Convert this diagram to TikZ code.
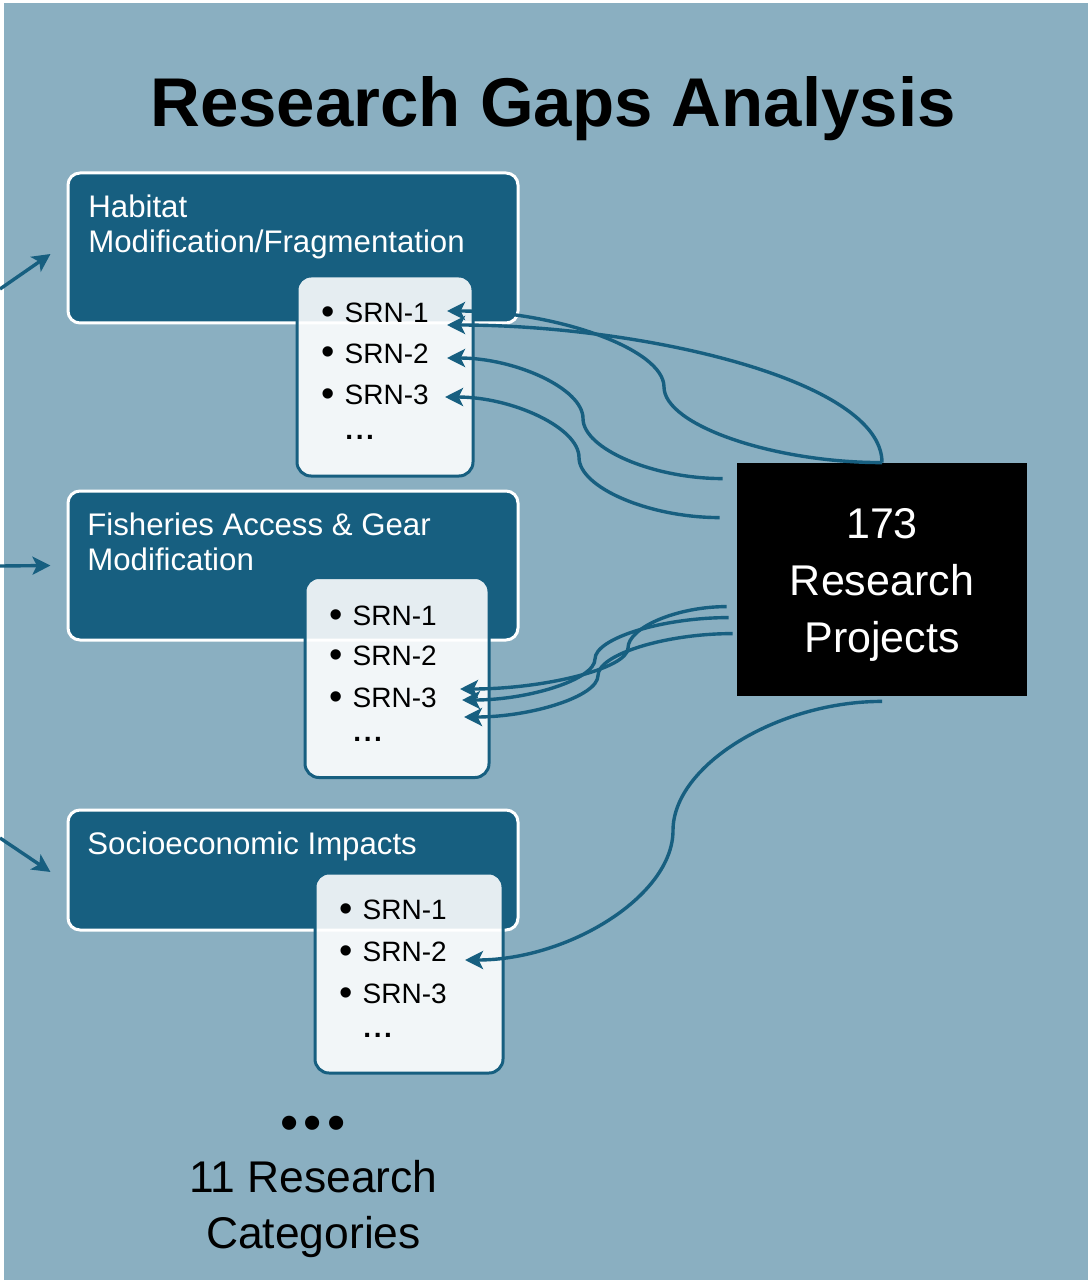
\documentclass[tikz,border=0pt]{standalone}
\usepackage{fontspec}
\setmainfont{Liberation Sans}
\usetikzlibrary{arrows.meta}
\definecolor{bgblue}{RGB}{138,175,193}
\definecolor{deepblue}{RGB}{23,95,128}
\newcommand{\srnbullet}{\raisebox{-1pt}{\fontsize{19}{17}\selectfont\textbullet}\hspace{5pt}}
\tikzset{
>={Stealth[length=9pt,width=9pt,inset=2.2pt]},
  catbox/.style={
    rectangle,
    rounded corners=6pt,
    fill=deepblue,
    draw=white, line width=1.5pt,
    minimum width=225pt},
  cattext/.style={
    anchor=base west,
    inner sep=0pt,
    align=left,
    text=white,
    font=\fontsize{15.6}{17.5}\selectfont},
  srnbox/.style={
    rectangle,
    rounded corners=7pt,
    fill=white, fill opacity=0.89,
    draw=deepblue, line width=1.5pt,
    minimum height=100pt},
  item/.style={anchor=base west, inner sep=0pt,
    font=\fontsize{14}{17}\selectfont},
  projbox/.style={
    rectangle,
    fill=black,
    minimum width=145pt,
    minimum height=116.5pt},
  projtext/.style={
    anchor=base,
    inner sep=0pt,
    text=white,
    align=center,
    font=\fontsize{21.5}{28.5}\selectfont},
  link/.style={draw=deepblue, line width=1.7pt, ->},
}
\begin{document}
\begin{tikzpicture}[x=0.5pt,y=-0.5pt]
  \useasboundingbox (0,0) rectangle (1088,1283);
  \fill[bgblue] (4,3) rectangle (1088,1280);
  \node[anchor=base, font=\fontsize{34.5}{40}\selectfont\bfseries] (title)
    at (553,127) {Research Gaps Analysis};

  % categories
  \node[catbox, minimum height=75pt] (hab) at (293,248) {};
  \node[catbox, minimum height=74.5pt] (fis) at (293,565.5) {};
  \node[catbox, minimum height=60pt] (soc) at (293,870) {};
  \node[cattext] (hab-t) at (88,253) {Habitat\\Modification/Fragmentation};
  \node[cattext] (fis-t) at (87,570.5) {Fisheries Access \& Gear\\Modification};
  \node[cattext] (soc-t) at (87,854.5) {Socioeconomic Impacts};

  % SRN lists
  \node[srnbox, minimum width=88pt] (hab-l) at (385,376) {};
  \node[item] (hab1) at (321,322) {\srnbullet SRN-1};
  \node[item] (hab2) at (321,363) {\srnbullet SRN-2};
  \node[item] (hab3) at (321,404.5) {\srnbullet SRN-3};
  \node[item] (hab-more) at (345,439) {\textbf{.\kern1.3pt.\kern1.3pt.}};

  \node[srnbox, minimum width=92pt] (fis-l) at (397,677.5) {};
  \node[item] (fis1) at (329,625) {\srnbullet SRN-1};
  \node[item] (fis2) at (329,665.5) {\srnbullet SRN-2};
  \node[item] (fis3) at (329,707) {\srnbullet SRN-3};
  \node[item] (fis-more) at (353,741) {\textbf{.\kern1.3pt.\kern1.3pt.}};

  \node[srnbox, minimum width=94pt] (soc-l) at (409,973) {};
  \node[item] (soc1) at (339,919.5) {\srnbullet SRN-1};
  \node[item] (soc2) at (339,961.5) {\srnbullet SRN-2};
  \node[item] (soc3) at (339,1003) {\srnbullet SRN-3};
  \node[item] (soc-more) at (363,1037) {\textbf{.\kern1.3pt.\kern1.3pt.}};

  \node[font=\fontsize{26}{30}\selectfont] (more) at (313,1128)
    {\textbullet\kern2.5pt\textbullet\kern2.5pt\textbullet};
  \node[anchor=base, align=center, font=\fontsize{22.2}{28}\selectfont] (cats)
    at (313.5,1248) {11 Research\\Categories};

  \node[projbox] (proj) at (882,579.5) {};
  \node[projtext] (proj-t) at (882,652) {173\\Research\\Projects};

  % free ends
  \coordinate (ina) at (0,289);
  \coordinate (inb) at (0,566);
  \coordinate (inc) at (0,838);
  \coordinate (pa) at ([shift={(-14,16)}]proj.north west);
  \coordinate (pb) at ([shift={(-17,55)}]proj.north west);
  \coordinate (pc) at ([shift={(-10,144)}]proj.north west);
  \coordinate (pd) at ([shift={(-8,155)}]proj.north west);
  \coordinate (pe) at ([shift={(-4,171)}]proj.north west);
  \coordinate (pf) at ([shift={(0,5)}]proj.south);

  \draw[link] (ina) -- ([shift={(-16,6)}]hab.west);
  \draw[link] (inb) -- ([shift={(-16,0)}]fis.west);
  \draw[link] (inc) -- ([shift={(-16,2)}]soc.west);

  \draw[link] (proj.north) .. controls +(-109,0) and +(0,38) .. (664,387)
    .. controls +(0,-38) and +(108.5,0) .. ([shift={(126,-11)}]hab1.base west);
  \draw[link] (proj.north) .. controls +(0,-83) and +(193,0)
    .. ([shift={(126,3)}]hab1.base west);
  \draw[link] (pa) .. controls +(-70,0) and +(0,30) .. (583,418.5)
    .. controls +(0,-30) and +(68,0) .. ([shift={(126,-5)}]hab2.base west);
  \draw[link] (pb) .. controls +(-70.5,0) and +(0,30) .. (579,457.5)
    .. controls +(0,-30) and +(67,0) .. ([shift={(124,-7.5)}]hab3.base west);

  \draw[link] (pc) .. controls +(-49.5,0) and +(0,-20.5) .. (628,648)
    .. controls +(0,20.5) and +(84,0) .. ([shift={(131,-18)}]fis3.base west);
  \draw[link] (pd) .. controls +(-67,0) and +(0,-20.5) .. (595,659)
    .. controls +(0,20.5) and +(66.5,0) .. ([shift={(133,-7)}]fis3.base west);
  \draw[link] (pe) .. controls +(-67.5,0) and +(0,-21) .. (598,675.5)
    .. controls +(0,21) and +(67,0) .. ([shift={(135,10)}]fis3.base west);

  \draw[link] (pf) .. controls +(-104.5,0) and +(0,-65) .. (673,830.5)
    .. controls +(0,65) and +(104,0) .. ([shift={(126,-1.5)}]soc2.base west);
\end{tikzpicture}
\end{document}
